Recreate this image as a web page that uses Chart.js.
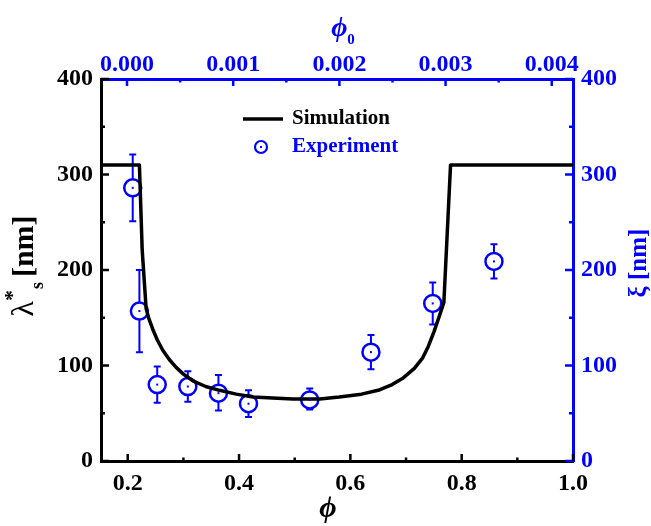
<!DOCTYPE html>
<html>
<head>
<meta charset="utf-8">
<script src="https://cdn.jsdelivr.net/npm/chart.js@4.4.0/dist/chart.umd.min.js"></script>
<style>
  html, body { margin: 0; padding: 0; background: #fff; }
  #wrap { width: 651px; height: 526px; }
</style>
</head>
<body>
<div id="wrap"><canvas id="lambdaChart" width="651" height="526"></canvas></div>
<script>
// Simulation curve: phi vs lambda*_s [nm]
const simPhi = [0.152, 0.221, 0.226, 0.233, 0.238, 0.245, 0.253, 0.263, 0.275, 0.287, 0.300, 0.317, 0.340, 0.365, 0.395, 0.425, 0.460, 0.497, 0.545, 0.580, 0.620, 0.650, 0.675, 0.695, 0.715, 0.730, 0.740, 0.750, 0.760, 0.768, 0.780, 1.000];
const simLambda = [310, 310, 221, 160, 149, 138, 127, 116, 106, 98, 91, 84, 78, 74, 70, 67, 66, 65, 65, 67, 70, 74, 80, 87, 97, 108, 120, 135, 152, 166, 310, 310];

// Experiment: phi vs xi [nm] with error bars
const expPhi = [0.209, 0.221, 0.253, 0.308, 0.363, 0.417, 0.527, 0.637, 0.748, 0.858];
const expXi = [286, 157, 80, 78, 71, 60, 64, 114, 165, 209];
const expLow = [251, 114, 61, 62, 53, 46, 54, 96, 143, 191];
const expHigh = [321, 200, 99, 94, 90, 74, 76, 132, 187, 227];

// Tick labels
const phiTicks = [0.2, 0.4, 0.6, 0.8, 1.0];
const phi0Ticks = [0.000, 0.001, 0.002, 0.003, 0.004];
const nmTicks = [0, 100, 200, 300, 400];

const BLUE = '#0000ff';
const SERIF = '"Liberation Serif", "Times New Roman", serif';

function fixedTicks(values) {
  return scale => { scale.ticks = values.map(v => ({ value: v })); };
}

function midpoints(values) {
  const out = [];
  for (let i = 0; i < values.length - 1; i++) out.push((values[i] + values[i + 1]) / 2);
  return out;
}

// draw a run of text pieces along a line, centred on (cx, cy), rotated by angle
function drawPieces(ctx, cx, cy, angle, pieces, color) {
  ctx.save();
  ctx.translate(cx, cy);
  ctx.rotate(angle);
  ctx.fillStyle = color;
  ctx.textBaseline = 'alphabetic';
  ctx.textAlign = 'left';
  let total = 0;
  pieces.forEach(p => { ctx.font = p.font; p.w = p.advance !== undefined ? p.advance : ctx.measureText(p.text).width; total += p.w; });
  let x = -total / 2;
  pieces.forEach(p => {
    ctx.font = p.font;
    ctx.fillText(p.text, x + (p.dx || 0), p.dy || 0);
    x += p.w;
  });
  ctx.restore();
}

const decorPlugin = {
  id: 'decor',
  beforeDatasetsDraw(chart) {
    // error bars under the markers
    const ctx = chart.ctx;
    const xs = chart.scales.x, ys = chart.scales.y;
    ctx.save();
    ctx.strokeStyle = BLUE;
    ctx.lineWidth = 2;
    expPhi.forEach((p, i) => {
      const x = xs.getPixelForValue(p);
      const y1 = ys.getPixelForValue(expLow[i]);
      const y2 = ys.getPixelForValue(expHigh[i]);
      ctx.beginPath();
      ctx.moveTo(x, y1); ctx.lineTo(x, y2);
      ctx.moveTo(x - 3.5, y1); ctx.lineTo(x + 3.5, y1);
      ctx.moveTo(x - 3.5, y2); ctx.lineTo(x + 3.5, y2);
      ctx.stroke();
    });
    ctx.restore();
  },
  afterDatasetsDraw(chart) {
    // centre dots of the experiment markers
    const ctx = chart.ctx;
    const meta = chart.getDatasetMeta(1);
    ctx.save();
    ctx.fillStyle = BLUE;
    meta.data.forEach(pt => { ctx.fillRect(pt.x - 1, pt.y - 1, 2, 2); });
    ctx.restore();
  },
  afterDraw(chart) {
    const ctx = chart.ctx;
    const ca = chart.chartArea;
    const { x, x2, y, y2 } = chart.scales;

    // inward tick marks
    ctx.save();
    ctx.lineWidth = 2.5;
    const vTicks = (scale, values, len, color, side) => {
      ctx.strokeStyle = color;
      values.forEach(v => {
        const py = scale.getPixelForValue(v);
        ctx.beginPath();
        if (side === 'left') { ctx.moveTo(ca.left, py); ctx.lineTo(ca.left + len, py); }
        else { ctx.moveTo(ca.right, py); ctx.lineTo(ca.right - len, py); }
        ctx.stroke();
      });
    };
    const hTicks = (scale, values, len, color, side) => {
      ctx.strokeStyle = color;
      values.forEach(v => {
        const px = scale.getPixelForValue(v);
        ctx.beginPath();
        if (side === 'bottom') { ctx.moveTo(px, ca.bottom); ctx.lineTo(px, ca.bottom - len); }
        else { ctx.moveTo(px, ca.top); ctx.lineTo(px, ca.top + len); }
        ctx.stroke();
      });
    };
    vTicks(y, nmTicks, 8, '#000', 'left');
    vTicks(y, midpoints(nmTicks), 4, '#000', 'left');
    vTicks(y2, nmTicks, 8, BLUE, 'right');
    vTicks(y2, midpoints(nmTicks), 4, BLUE, 'right');
    hTicks(x, phiTicks, 7, '#000', 'bottom');
    hTicks(x, midpoints(phiTicks), 3.5, '#000', 'bottom');
    hTicks(x2, phi0Ticks, 7, BLUE, 'top');
    hTicks(x2, midpoints(phi0Ticks), 3.5, BLUE, 'top');
    ctx.restore();

    // axis titles
    drawPieces(ctx, 23, 266, -Math.PI / 2, [
      { text: 'λ', font: '32px ' + SERIF, dy: 10 },
      { text: '*', font: 'bold 22px ' + SERIF, dy: -4, advance: 8 },
      { text: 's', font: 'bold 18px ' + SERIF, dy: 20, dx: 4, advance: 16 },
      { text: '[nm]', font: 'bold 30px ' + SERIF, dy: 10 }
    ], '#000');
    drawPieces(ctx, 637, 263, -Math.PI / 2, [
      { text: 'ξ ', font: 'bold 25px ' + SERIF, dy: 9 },
      { text: '[nm]', font: 'bold 25px ' + SERIF, dy: 9 }
    ], BLUE);
    drawPieces(ctx, 328, 517, 0, [
      { text: 'ϕ', font: 'italic bold 30px ' + SERIF }
    ], '#000');
    drawPieces(ctx, 343, 36, 0, [
      { text: 'ϕ', font: 'italic bold 28px ' + SERIF },
      { text: '0', font: 'bold 15px ' + SERIF, dy: 8 }
    ], BLUE);

    // legend
    ctx.save();
    const lx = ca.left + 142, ly = ca.top + 40;
    ctx.strokeStyle = '#000';
    ctx.lineWidth = 3.5;
    ctx.beginPath();
    ctx.moveTo(lx, ly); ctx.lineTo(lx + 40, ly);
    ctx.stroke();
    ctx.font = 'bold 21px ' + SERIF;
    ctx.textBaseline = 'middle';
    ctx.fillStyle = '#000';
    ctx.fillText('Simulation', lx + 49, ly);
    const cy = ly + 28;
    ctx.strokeStyle = BLUE;
    ctx.lineWidth = 2.2;
    ctx.beginPath();
    ctx.arc(lx + 18, cy, 6, 0, Math.PI * 2);
    ctx.stroke();
    ctx.fillStyle = BLUE;
    ctx.fillRect(lx + 17, cy - 1, 2, 2);
    ctx.fillText('Experiment', lx + 49, cy);
    ctx.restore();
  }
};

const tickFont = { family: SERIF, size: 24, weight: 'bold' };

new Chart(document.getElementById('lambdaChart'), {
  data: {
    datasets: [
      {
        type: 'line',
        label: 'Simulation',
        data: simPhi.map((p, i) => ({ x: p, y: simLambda[i] })),
        borderColor: '#000',
        borderWidth: 3.5,
        borderJoinStyle: 'round',
        pointRadius: 0,
        fill: false,
        tension: 0,
        xAxisID: 'x',
        yAxisID: 'y'
      },
      {
        type: 'scatter',
        label: 'Experiment',
        data: expPhi.map((p, i) => ({ x: p, y: expXi[i] })),
        borderColor: BLUE,
        backgroundColor: '#fff',
        borderWidth: 2.5,
        pointRadius: 8.5,
        pointHoverRadius: 8.5,
        xAxisID: 'x',
        yAxisID: 'y'
      }
    ]
  },
  options: {
    responsive: false,
    animation: false,
    events: [],
    layout: { padding: 0 },
    plugins: { legend: { display: false }, tooltip: { enabled: false } },
    scales: {
      x: {
        type: 'linear', position: 'bottom', min: 0.152, max: 1.0,
        afterBuildTicks: fixedTicks(phiTicks),
        afterFit: s => { s.height = 65; },
        grid: { display: false, drawTicks: false },
        border: { display: true, color: '#000', width: 3 },
        ticks: { color: '#000', font: tickFont, padding: 8, maxRotation: 0, callback: v => v.toFixed(1) }
      },
      x2: {
        type: 'linear', position: 'top', display: true, min: -0.000245, max: 0.0042,
        afterBuildTicks: fixedTicks(phi0Ticks),
        afterFit: s => { s.height = 79; },
        grid: { display: false, drawTicks: false },
        border: { display: true, color: BLUE, width: 3 },
        ticks: { color: BLUE, font: tickFont, padding: 0, maxRotation: 0, callback: v => v.toFixed(3) }
      },
      y: {
        type: 'linear', position: 'left', min: 0, max: 400,
        afterBuildTicks: fixedTicks(nmTicks),
        afterFit: s => { s.width = 101; },
        grid: { display: false, drawTicks: false },
        border: { display: true, color: '#000', width: 3 },
        ticks: { color: '#000', font: tickFont, padding: 8, callback: v => String(v) }
      },
      y2: {
        type: 'linear', position: 'right', display: true, min: 0, max: 400,
        afterBuildTicks: fixedTicks(nmTicks),
        afterFit: s => { s.width = 78; },
        grid: { display: false, drawTicks: false },
        border: { display: true, color: BLUE, width: 3 },
        ticks: { color: BLUE, font: tickFont, padding: 8, callback: v => String(v) }
      }
    }
  },
  plugins: [decorPlugin]
});
</script>
</body>
</html>
